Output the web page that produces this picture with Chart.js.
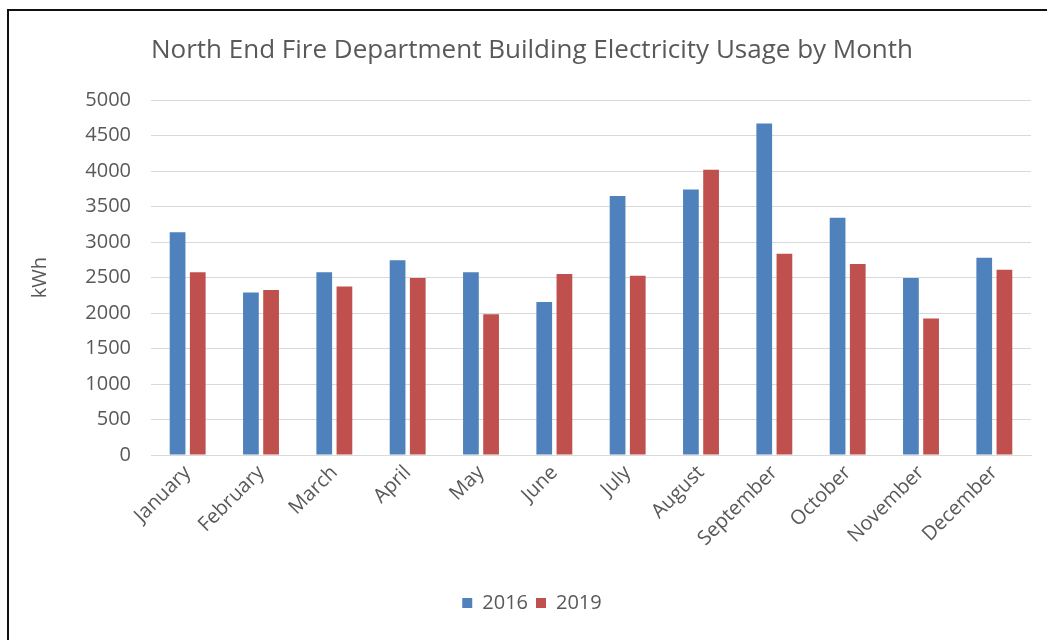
<!DOCTYPE html>
<html>
<head>
<meta charset="utf-8">
<script src="https://cdn.jsdelivr.net/npm/chart.js@4/dist/chart.umd.min.js"></script>
<style>
    html, body { margin: 0; padding: 0; background: #fff; overflow: hidden; }
    #wrap { position: relative; width: 1047px; height: 640px; overflow: hidden; }
    #usageChart { display: block; }
    #frame { position: absolute; left: 7px; top: 9px; width: 1100px; height: 700px;
             border-top: 2px solid #111; border-left: 2px solid #111; pointer-events: none; }
</style>
</head>
<body>
<div id="wrap">
    <canvas id="usageChart" width="1047" height="640"></canvas>
    <div id="frame"></div>
</div>
<script>
// Monthly usage in kWh
const months = ['January', 'February', 'March', 'April', 'May', 'June',
    'July', 'August', 'September', 'October', 'November', 'December'];
const usage2016 = [3140, 2290, 2575, 2745, 2575, 2155, 3650, 3740, 4670, 3345, 2495, 2780];
const usage2019 = [2575, 2325, 2375, 2495, 1985, 2550, 2525, 4020, 2835, 2690, 1925, 2610];
const yTicks = [0, 500, 1000, 1500, 2000, 2500, 3000, 3500, 4000, 4500, 5000];

const textColor = '#595959';
const gridColor = '#d9d9d9';
const fontFamily = "'Open Sans', 'Liberation Sans', sans-serif";

Chart.defaults.font.family = fontFamily;
Chart.defaults.color = textColor;

new Chart(document.getElementById('usageChart'), {
    type: 'bar',
    data: {
        labels: months,
        datasets: [
            { label: '2016', data: usage2016, backgroundColor: '#4f81bd' },
            { label: '2019', data: usage2019, backgroundColor: '#c0504d' }
        ]
    },
    options: {
        responsive: false,
        animation: false,
        categoryPercentage: 0.55,
        barPercentage: 0.78,
        // left padding + empty right axis keep the title centred like the original
        layout: { padding: { left: 17, right: 0, top: 0, bottom: 17 } },
        plugins: {
            title: {
                display: true,
                text: 'North End Fire Department Building Electricity Usage by Month',
                color: textColor,
                font: { size: 26, weight: 'normal' },
                padding: { top: 35, bottom: 34 }
            },
            legend: {
                position: 'bottom',
                labels: { boxWidth: 10, boxHeight: 10, padding: 8, font: { size: 20 }, color: textColor }
            },
            tooltip: { enabled: false }
        },
        scales: {
            x: {
                grid: { display: false, drawTicks: false },
                border: { display: true, color: gridColor, width: 1 },
                ticks: { minRotation: 45, maxRotation: 45, padding: 6, font: { size: 20 }, color: textColor },
                afterFit: (scale) => { scale.height = 130; }
            },
            y: {
                min: 0,
                max: 5000,
                afterBuildTicks: (scale) => { scale.ticks = yTicks.map(v => ({ value: v })); },
                grid: { color: gridColor, drawTicks: false },
                border: { display: false },
                ticks: { padding: 20, font: { size: 20 }, color: textColor, callback: (v) => String(v) },
                title: { display: true, text: 'kWh', font: { size: 20 }, color: textColor, padding: { top: 11, bottom: 0 } },
                afterFit: (scale) => { scale.width = 134; }
            },
            yRight: {
                type: 'linear',
                position: 'right',
                grid: { display: false, drawTicks: false },
                border: { display: false },
                ticks: { display: false },
                afterFit: (scale) => { scale.width = 16; }
            }
        }
    }
});
</script>
</body>
</html>
